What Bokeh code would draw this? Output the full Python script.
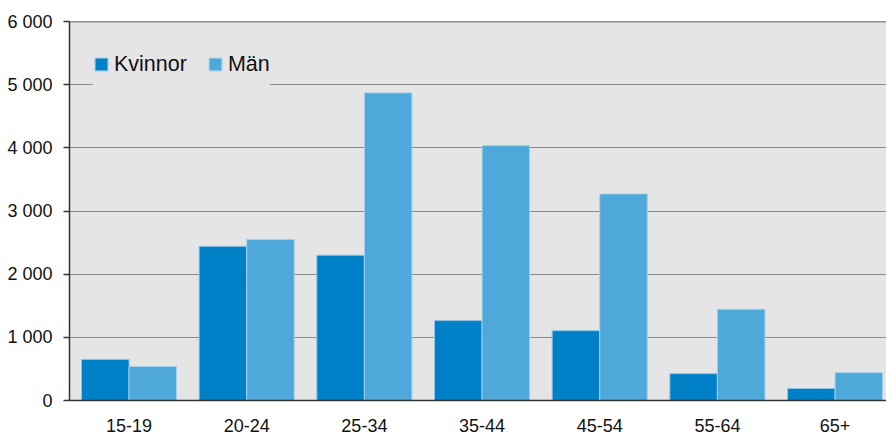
from bokeh.plotting import figure
from bokeh.models import ColumnDataSource, Range1d, FixedTicker, Span
from bokeh.transform import dodge
from bokeh.embed import file_html
from bokeh.resources import INLINE

# Data
categories = ["15-19", "20-24", "25-34", "35-44", "45-54", "55-64", "65+"]
kvinnor = [650, 2440, 2300, 1265, 1105, 425, 190]
man = [540, 2550, 4870, 4035, 3270, 1445, 440]
y_ticks = [0, 1000, 2000, 3000, 4000, 5000, 6000]
y_tick_labels = ["0", "1 000", "2 000", "3 000", "4 000", "5 000", "6 000"]

FONT = "Liberation Sans"
C_K = "#0080c6"
C_M = "#4ea8da"

idx = list(range(len(categories)))
src = ColumnDataSource(dict(x=idx, k=kvinnor, m=man))

p = figure(width=886, height=439, output_backend="svg", toolbar_location=None,
           x_range=Range1d(-0.506, 6.437), y_range=Range1d(y_ticks[0], y_ticks[-1]),
           min_border_left=69, min_border_right=0, min_border_top=21, min_border_bottom=39)

p.background_fill_color = "#e5e5e5"
p.border_fill_color = "white"
p.outline_line_color = None

bw = 0.404
p.vbar(x=dodge("x", -bw / 2, range=p.x_range), top="k", width=bw, source=src,
       fill_color=C_K, line_color="#8fc3e6", line_width=1, legend_label="Kvinnor")
p.vbar(x=dodge("x", bw / 2, range=p.x_range), top="m", width=bw, source=src,
       fill_color=C_M, line_color="#a6d0ec", line_width=1, legend_label="Män")

# grid
p.xgrid.grid_line_color = None
p.ygrid.grid_line_color = "#8a8a8a"
p.ygrid.grid_line_width = 1
p.ygrid.ticker = FixedTicker(ticks=y_ticks)

p.add_layout(Span(location=y_ticks[-1], dimension="width", line_color="#333333", line_width=1.5))

# y axis
p.yaxis.ticker = FixedTicker(ticks=y_ticks)
p.yaxis.major_label_overrides = {t: l for t, l in zip(y_ticks, y_tick_labels)}
p.yaxis.major_tick_out = 6
p.yaxis.major_tick_in = 0
p.yaxis.minor_tick_line_color = None
p.yaxis.axis_line_color = "#333333"
p.yaxis.axis_line_width = 1.5
p.yaxis.major_tick_line_color = "#333333"
p.yaxis.major_tick_line_width = 1.5
p.yaxis.major_label_standoff = 11
p.yaxis.major_label_text_font = FONT
p.yaxis.major_label_text_font_size = "18px"
p.yaxis.major_label_text_color = "#111111"

# x axis
p.xaxis.ticker = FixedTicker(ticks=idx)
p.xaxis.major_label_overrides = {i: c for i, c in zip(idx, categories)}
p.xaxis.major_tick_out = 0
p.xaxis.major_tick_in = 0
p.xaxis.minor_tick_line_color = None
p.xaxis.axis_line_color = "#333333"
p.xaxis.axis_line_width = 1.5
p.xaxis.major_label_standoff = 18
p.xaxis.major_label_text_font = FONT
p.xaxis.major_label_text_font_size = "18px"
p.xaxis.major_label_text_color = "#111111"

# legend
lg = p.legend[0]
lg.location = (24, 307)
lg.orientation = "horizontal"
lg.margin = 0
lg.padding = 10
lg.spacing = 20
lg.label_standoff = 5
lg.glyph_width = 16
lg.glyph_height = 16
lg.label_height = 58
lg.label_text_font = FONT
lg.label_text_font_size = "21.5px"
lg.label_text_color = "#111111"
lg.border_line_color = None
lg.background_fill_color = "#e5e5e5"
lg.background_fill_alpha = 1.0

open("out.html", "w").write(file_html(p, INLINE))
